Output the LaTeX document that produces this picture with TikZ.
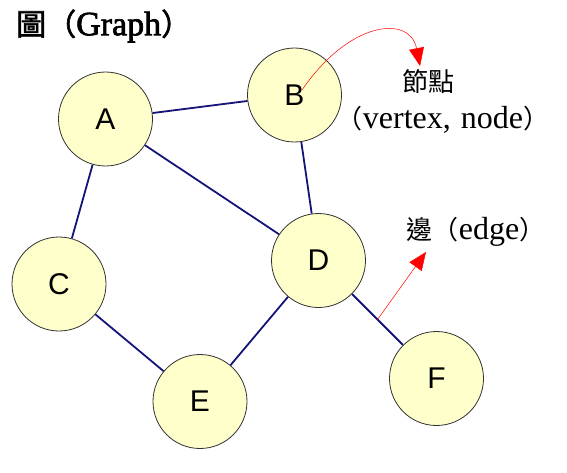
\documentclass[tikz,border=0pt]{standalone}
\usepackage{fontspec}
\setmainfont{Liberation Serif}
\newfontfamily\cjk{Noto Sans CJK TC}
\newfontfamily\cjktitle{Noto Sans CJK TC}[FakeBold=2]
\newfontfamily\lattitle{Liberation Serif}[FakeBold=2]
\newfontfamily\lblfont{Liberation Sans}
\usetikzlibrary{arrows.meta}
\definecolor{edgecol}{RGB}{20,20,120}
\definecolor{nodefill}{RGB}{255,255,204}
\definecolor{nodeline}{RGB}{50,50,50}
\newcommand{\cjkann}{\cjk\fontsize{26}{26}\selectfont}
\begin{document}
\begin{tikzpicture}[x=1pt,y=-1pt,
  vnode/.style={circle, draw=nodeline, line width=0.8pt, fill=nodefill, minimum size=94pt, inner sep=0pt, font=\lblfont\fontsize{30}{30}\selectfont},
  gedge/.style={draw=edgecol, line width=1.8pt},
  annarrow/.style={draw=red, line width=0.5pt, -{Triangle[length=18pt,width=15pt]}},
  anntext/.style={inner sep=0pt, font=\fontsize{32}{32}\selectfont}]
\useasboundingbox (0,0) rectangle (567,472);
\node[vnode] (A) at (105.5,119) {A};
\node[vnode] (B) at (294.5,95) {B};
\node[vnode] (C) at (59,284) {C};
\node[vnode] (D) at (318.5,260.5) {D};
\node[vnode] (E) at (200,401.5) {E};
\node[vnode] (F) at (436.5,378.5) {F};
\draw[gedge] (A) -- (B);
\draw[gedge] (A) -- (C);
\draw[gedge] (A) -- (D);
\draw[gedge] (B) -- (D);
\draw[gedge] (C) -- (E);
\draw[gedge] (D) -- (E);
\draw[gedge] (D) -- coordinate (mDF) (F);
\node[anchor=west, inner sep=0pt, font=\lattitle\fontsize{34}{34}\selectfont] (title) at (16,26) {{\cjktitle\fontsize{30}{30}\selectfont 圖（}Graph{\cjktitle\fontsize{30}{30}\selectfont ）}};
\node[inner sep=0pt, font=\cjkann] (vtxa) at (428,82) {節點};
\node[anntext] (vtxb) at (443,120) {{\cjkann （}vertex,\hspace{10pt}node{\cjkann ）}};
\node[anntext] (edg) at (476,232) {{\cjkann 邊（}edge{\cjkann ）}};
\coordinate (bt) at (420,66);
\coordinate (et) at (426,252);
\draw[annarrow] ([shift={(7.5,-5)}]B.center) .. controls (350,20) and (410,15) .. (bt);
\draw[annarrow] (mDF) -- (et);
\end{tikzpicture}
\end{document}
